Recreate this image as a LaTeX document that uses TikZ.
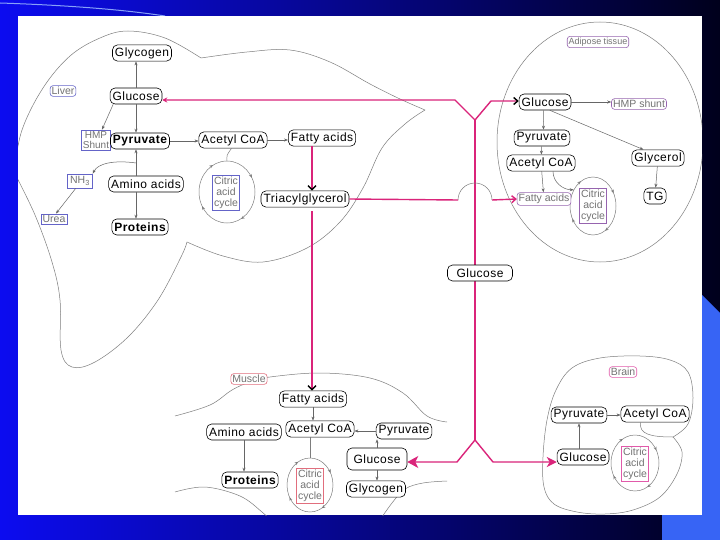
\documentclass[tikz,border=0pt]{standalone}
\usepackage{fontspec}
\setmainfont{Liberation Sans}
\newfontfamily\molfam[LetterSpace=4]{Liberation Sans}
\usetikzlibrary{arrows.meta,positioning,calc,shapes.geometric,decorations.markings}
\newcommand{\molfont}{\molfam\fontsize{12}{13}\selectfont}
\newcommand{\tagfont}{\fontsize{10.5}{11}\selectfont}
\definecolor{bloodpink}{RGB}{218,36,122}
\definecolor{outl}{RGB}{125,125,125}
\definecolor{liverblue}{RGB}{100,100,200}
\definecolor{adipurple}{RGB}{150,100,175}
\definecolor{musred}{RGB}{225,110,125}
\definecolor{brainpink}{RGB}{225,90,170}
\definecolor{slideblue}{RGB}{12,12,240}
\definecolor{slidemid}{RGB}{0,0,120}
\definecolor{slidenavy}{RGB}{0,0,28}
\definecolor{slidelight}{RGB}{55,100,245}
\tikzset{
  mol/.style={draw, rounded corners=5pt, fill=white, font=\molfont, inner sep=2.5pt, line width=0.6pt, minimum height=16pt},
  bmol/.style={mol, font=\molfont\bfseries},
  tag/.style={draw=#1, rounded corners=3pt, fill=white, font=\tagfont, text=black!55, inner sep=1.5pt, align=center, line width=0.6pt},
  sqtag/.style={tag=#1, sharp corners},
  cyc/.style={draw=outl, ellipse, inner sep=0pt, line width=0.5pt, postaction={decorate},
    decoration={markings, mark=between positions 0.08 and 1 step 0.25 with {\arrowreversed{Stealth[length=3.5pt,width=3pt]}}}},
  arr/.style={-{Stealth[length=4pt,width=3pt]}, draw=black!60, line width=0.5pt},
  bld/.style={draw=bloodpink, line width=1.4pt},
  outline/.style={draw=outl, line width=0.5pt},
}
\begin{document}
\begin{tikzpicture}[x=1pt, y=-1pt]
% slide background
\useasboundingbox (0,0) rectangle (720,540);
\shade[left color=slideblue, middle color=slidemid, right color=slidenavy] (0,0) rectangle (720,540);
\fill[slidelight] (699,292) -- (720,313) -- (720,540) -- (662,540) -- (662,292) -- cycle;
\draw[slidelight!60!white, line width=1pt] (0,3) .. controls (60,5) and (120,9) .. (165,16);
\fill[white] (18,16) rectangle (702,515);

% organ outlines
\begin{scope}
\clip (18,16) rectangle (702,515);
% liver
\draw[outline] plot[smooth, tension=0.6] coordinates {(14,172) (22,130) (43,88) (70,56) (100,38) (128,31) (165,38) (201,58)};
\draw[outline] plot[smooth, tension=0.6] coordinates {(201,58) (247,52) (290,50) (330,62) (370,84) (400,99) (425,110)};
\draw[outline] plot[smooth, tension=0.6] coordinates {(425,110) (405,124) (382,148) (363,188) (340,222) (307,248) (263,262) (223,256) (187,242)};
\draw[outline] plot[smooth, tension=0.6] coordinates {(187,242) (181,257) (158,300) (128,337) (95,362) (72,367) (61,350) (60,300) (52,262) (35,215) (14,172)};
% adipose tissue
\coordinate (adipose) at (600,142);
\draw[outline] (adipose) ellipse[x radius=103pt, y radius=120pt];
% muscle
\draw[outline] plot[smooth, tension=0.6] coordinates {(175,416) (210,405) (232,390) (250,382) (270,377) (320,373) (370,378) (403,393) (427,416) (447,422)};
\draw[outline] plot[smooth, tension=0.6] coordinates {(175,492) (205,487) (240,496) (262,512) (270,520)};
\draw[outline] plot[smooth, tension=0.6] coordinates {(380,520) (392,503) (405,489) (423,483) (447,481)};
% brain
\coordinate (brNotch) at (673,437);
\draw[outline] plot[smooth, tension=0.6] coordinates {(673,437) (688,424) (693,398) (688,372) (670,360) (640,356) (600,358) (572,368) (556,390) (547,420) (543,457) (544,487) (554,504) (577,512) (605,514) (633,510) (660,497) (677,474) (682,452) (673,437)};
\end{scope}

% blood
\coordinate (yTL) at (455,100);
\coordinate (yT) at (475,120);
\coordinate (yTR) at (491,101);
\coordinate (yB) at (475,440);
\coordinate (yBL) at (457,462);
\coordinate (yBR) at (493,462);
\coordinate (hopL) at (458,200);
\coordinate (hopR) at (492,200);
\coordinate (tagx) at (312,0);
\draw[bld] (yT) -- (yB);
\node[mol, minimum width=65pt] (bGlucose) at (480,273) {Glucose};

% liver
\node[tag=liverblue] (liver) at (63,91) {Liver};
\node[mol] (lGlycogen) at (142,53) {Glycogen};
\node[mol] (lGlucose) at (136,96) {Glucose};
\node[sqtag=liverblue, font=\fontsize{10}{10}\selectfont] (lHMP) at (96,140) {HMP\\Shunt};
\node[bmol] (lPyr) at (140,141) {Pyruvate};
\node[mol] (lAcCoA) at (233,140) {Acetyl CoA};
\node[mol] (lFA) at (322,138) {Fatty acids};
\node[cyc, minimum width=56pt, minimum height=62pt] (lCAC) at (227,192) {};
\node[sqtag=liverblue] (lCycle) at (226,193) {Citric\\acid\\cycle};
\node[sqtag=liverblue, inner sep=2.5pt] (lNH3) at (80,181) {NH\textsubscript{3}};
\node[sqtag=liverblue] (lUrea) at (54,219) {Urea};
\node[mol] (lAA) at (146,184) {Amino acids};
\node[bmol] (lProt) at (140,227) {Proteins};
\node[mol] (lTAG) at (305,199) {Triacylglycerol};

% adipose tissue
\node[tag=adipurple, font=\fontsize{9}{9}\selectfont] (aLabel) at (598,42) {Adipose tissue};
\node[mol] (aGlucose) at (545,102) {Glucose};
\node[tag=adipurple] (aHMP) at (639,104) {HMP shunt};
\node[mol] (aPyr) at (542,138) {Pyruvate};
\node[mol] (aAcCoA) at (541,163) {Acetyl CoA};
\node[mol] (aGlycerol) at (658,158) {Glycerol};
\node[mol] (aTG) at (655,196) {TG};
\node[cyc, minimum width=46pt, minimum height=58pt] (aCAC) at (593,206) {};
\node[sqtag=adipurple] (aCycle) at (593,206) {Citric\\acid\\cycle};
\node[tag=adipurple] (aFA) at (544,199) {Fatty acids};

% muscle
\node[tag=musred] (mLabel) at (249,379) {Muscle};
\node[mol] (mFA) at (313,399) {Fatty acids};
\node[mol] (mAA) at (244,432) {Amino acids};
\node[mol] (mAcCoA) at (320,429) {Acetyl CoA};
\node[mol] (mPyr) at (404,431) {Pyruvate};
\node[mol, minimum width=60pt, minimum height=22pt] (mGlucose) at (377,459) {Glucose};
\node[mol] (mGlycogen) at (376,489) {Glycogen};
\node[bmol] (mProt) at (250,480) {Proteins};
\node[cyc, minimum width=46pt, minimum height=54pt] (mCAC) at (310,485) {};
\node[sqtag=musred] (mCycle) at (310,486) {Citric\\acid\\cycle};

% brain
\node[tag=brainpink] (brLabel) at (623,372) {Brain};
\node[mol] (brPyr) at (579,415) {Pyruvate};
\node[mol] (brAcCoA) at (655,414) {Acetyl CoA};
\node[mol] (brGlucose) at (583,457) {Glucose};
\node[cyc, minimum width=48pt, minimum height=56pt] (brCAC) at (635,463) {};
\node[sqtag=brainpink] (brCycle) at (635,464) {Citric\\acid\\cycle};
\draw[outline] (brAcCoA.-150) .. controls (639,434) and (650,437) .. (brNotch);

% blood connections
\draw[bld, {Stealth[length=5pt,width=5pt]}-{Straight Barb[length=4pt,width=7pt,color=black]}] (lGlucose.east |- yTL) -- (yTL) -- (yT) -- (yTR) -- (aGlucose.west |- yTR);
\draw[bld, -{Stealth[length=11pt,width=12pt,inset=3pt]}] (yB) -- (yBL) -- (mGlucose.east |- yBL);
\draw[bld, -{Stealth[length=10pt,width=10pt,inset=3pt]}] (yB) -- (yBR) -- (brGlucose.west |- yBR);
\draw[bld] (lTAG.east) -- (hopL);
\draw[outline] (hopL) arc[start angle=180, end angle=0, radius=17pt];
\draw[bld, -{Straight Barb[length=4pt,width=7pt]}] (hopR) -- (aFA.west);
\draw[bld, -{Straight Barb[length=4pt,width=8pt,color=black]}] (lFA.south -| tagx) -- (lTAG.north -| tagx);
\draw[bld, -{Straight Barb[length=4pt,width=8pt,color=black]}, shorten <=4pt] (lTAG.south -| tagx) -- (mFA.north -| tagx);

% liver arrows
\coordinate (lBranch) at (136,163);
\draw[arr] (lGlucose.north) -- (lGlucose.north |- lGlycogen.south);
\draw[arr] (lGlucose.south) -- (lGlucose.south |- lPyr.north);
\draw[arr] (lGlucose.-160) -- (lHMP.60);
\draw[arr] (lPyr.east) -- (lPyr.east -| lAcCoA.west);
\draw[arr] (lAcCoA.east) -- (lAcCoA.east -| lFA.west);
\draw[arr] (lAA.north -| lGlucose) -- (lGlucose |- lPyr.south);
\draw[arr] (lAA.south -| lGlucose) -- (lGlucose |- lProt.north);
\draw[arr] (lBranch) .. controls (115,160) and (98,163) .. (lNH3.north east);
\draw[arr] (lNH3.-120) -- (lUrea.70);
\draw[outline] (lAcCoA.-100) .. controls (226,156) and (227,155) .. (lCAC.north);

% adipose arrows
\draw[arr] (aGlucose.east) -- (aGlucose.east -| aHMP.west);
\draw[arr] (aGlucose.-100) -- (aPyr.80);
\draw[arr] (aGlucose.-60) -- (aGlycerol.150);
\draw[arr] (aPyr) -- (aAcCoA);
\draw[arr] (aAcCoA) -- (aFA);
\draw[arr] (aAcCoA.-35) to[out=-90, in=180] (aCAC.140);
\draw[arr] (aGlycerol) -- (aTG);

% muscle arrows
\draw[arr] (mFA.south) -- (mFA.south |- mAcCoA.north);
\draw[arr] (mPyr.west) -- (mPyr.west -| mAcCoA.east);
\draw[arr] (mGlucose.north) -- (mGlucose.north |- mPyr.south);
\draw[arr] (mGlucose.south) -- (mGlucose.south |- mGlycogen.north);
\draw[arr] (mAA.south) -- (mAA.south |- mProt.north);
\draw[outline] (mAcCoA.south -| mCAC.north) -- (mCAC.north);

% brain arrows
\draw[arr] (brPyr.east) -- (brPyr.east -| brAcCoA.west);
\draw[arr] (brGlucose.north -| brPyr) -- (brPyr.south);
\end{tikzpicture}
\end{document}
